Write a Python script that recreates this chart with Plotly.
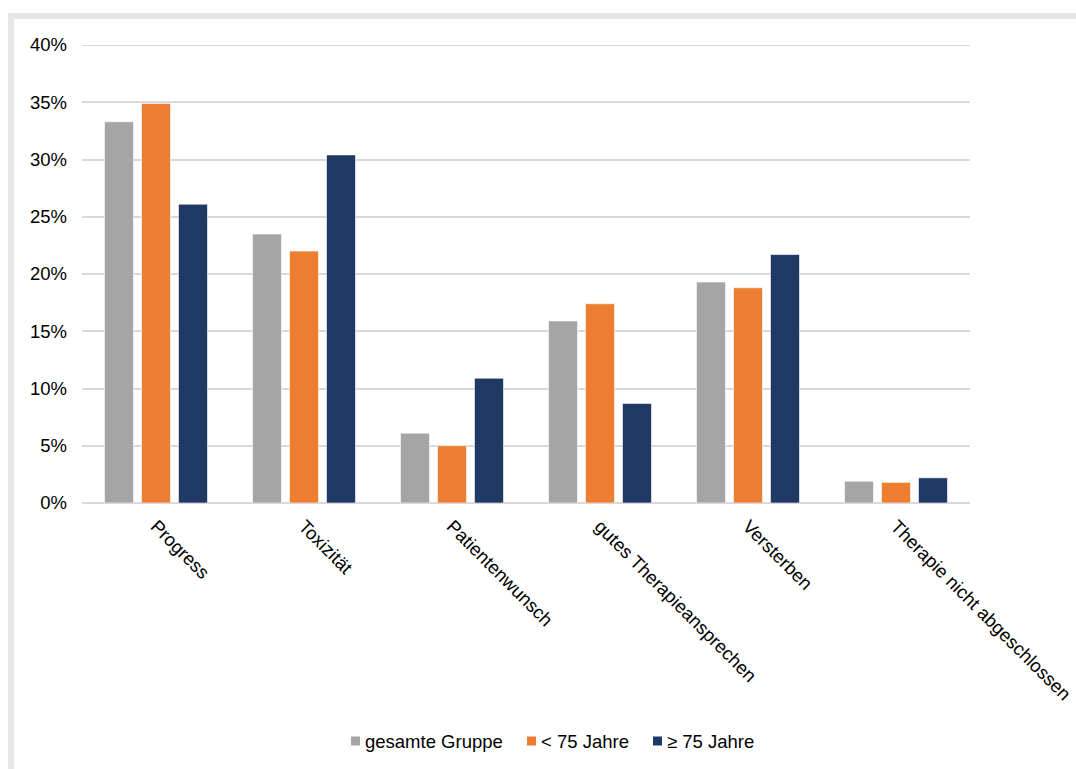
import plotly.graph_objects as go

categories = ["Progress", "Toxizität", "Patientenwunsch", "gutes Therapieansprechen",
              "Versterben", "Therapie nicht abgeschlossen"]
series_names = ["gesamte Gruppe", "< 75 Jahre", "≥ 75 Jahre"]
gesamt = [33.3, 23.5, 6.1, 15.9, 19.3, 1.9]
unter75 = [34.9, 22.0, 5.0, 17.4, 18.8, 1.8]
ueber75 = [26.1, 30.4, 10.9, 8.7, 21.7, 2.2]
tick_vals = [0, 5, 10, 15, 20, 25, 30, 35, 40]
tick_text = ["0%", "5%", "10%", "15%", "20%", "25%", "30%", "35%", "40%"]

colors = ["#a5a5a5", "#ed7d31", "#203864"]
values = [gesamt, unter75, ueber75]

W, H = 1076, 769
L, R, T, B = 82, 106, 45, 266
pw, ph = W - L - R, H - T - B
FS = 18.5


def px(x):
    return (x - L) / pw


def py(y):
    return (H - B - y) / ph


fig = go.Figure()
for name, vals, c in zip(series_names, values, colors):
    fig.add_trace(go.Bar(
        x=categories, y=vals, name=name, showlegend=False,
        marker=dict(color=c, line=dict(color="rgba(255,255,255,0.6)", width=1)),
    ))

shapes = [dict(type="rect", xref="paper", yref="paper",
               x0=px(11), x1=px(1090), y0=py(16), y1=py(790),
               line=dict(color="#e6e6e6", width=6), fillcolor="rgba(0,0,0,0)",
               layer="below"),
          # top gridline (at the edge of the axis range)
          dict(type="line", xref="paper", yref="y", x0=0, x1=1,
               y0=tick_vals[-1], y1=tick_vals[-1],
               line=dict(color="#d9d9d9", width=2), layer="below")]
annotations = []
legend_x = [351, 527, 653]
for name, c, lx in zip(series_names, colors, legend_x):
    shapes.append(dict(type="rect", xref="paper", yref="paper",
                       x0=px(lx), x1=px(lx + 9), y0=py(736.5), y1=py(745.5),
                       fillcolor=c, line=dict(width=0)))
    annotations.append(dict(xref="paper", yref="paper", x=px(lx + 12), y=py(741),
                            xanchor="left", yanchor="middle", text=name,
                            showarrow=False, font=dict(size=FS, color="#000000")))

fig.update_layout(
    width=W, height=H,
    margin=dict(l=L, r=R, t=T, b=B, autoexpand=False),
    paper_bgcolor="white", plot_bgcolor="white",
    barmode="group", bargap=0.25, bargroupgap=0.216,
    font=dict(family="Liberation Sans, Arial, sans-serif", size=FS, color="#000000"),
    showlegend=False,
    xaxis=dict(tickangle=45, showgrid=False, showline=False, ticks="",
               tickfont=dict(size=FS), ticklabelstandoff=8),
    yaxis=dict(range=[0, 40], tickvals=tick_vals, ticktext=tick_text,
               showgrid=True, gridcolor="#d9d9d9", gridwidth=2,
               zeroline=True, zerolinecolor="#d9d9d9", zerolinewidth=2,
               showline=False, ticks="", tickfont=dict(size=FS), ticklabelstandoff=14),
    shapes=shapes,
    annotations=annotations,
)

fig.write_html("out.html")
